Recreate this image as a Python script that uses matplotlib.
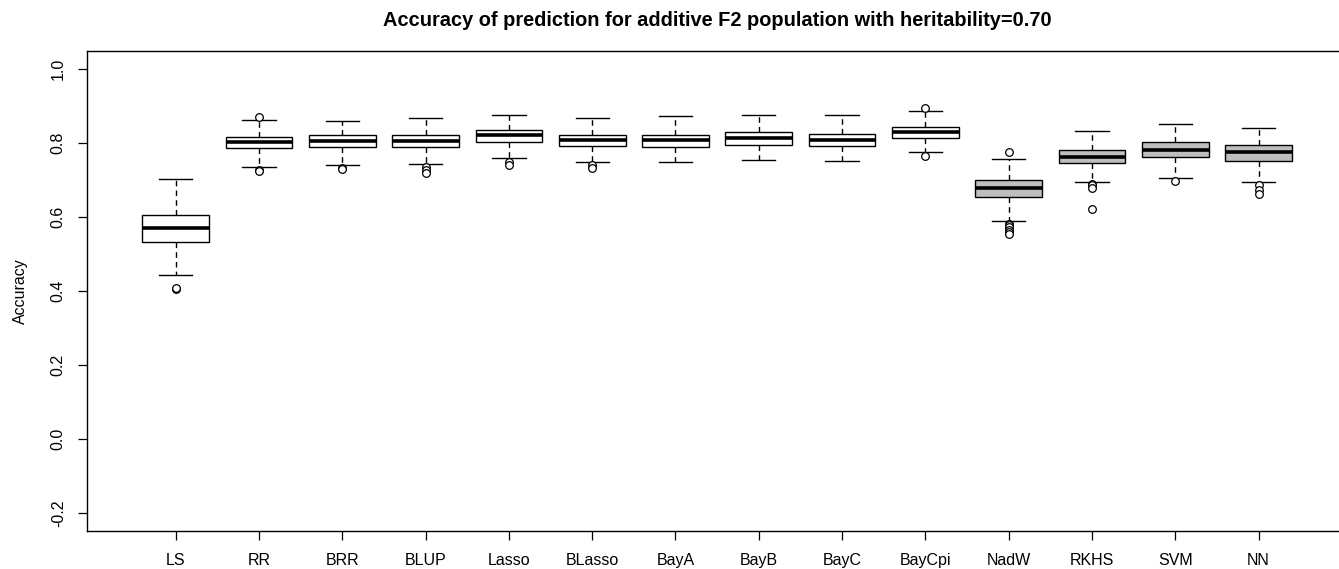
import matplotlib
matplotlib.use("Agg")
import matplotlib.pyplot as plt

plt.rcParams["font.family"] = ["Liberation Sans", "DejaVu Sans"]

# --- data (summary stats per method) ---
methods = ["LS", "RR", "BRR", "BLUP", "Lasso", "BLasso", "BayA", "BayB",
           "BayC", "BayCpi", "NadW", "RKHS", "SVM", "NN"]
whis_lo = [0.442, 0.735, 0.741, 0.743, 0.758, 0.749, 0.749, 0.754,
           0.751, 0.774, 0.590, 0.694, 0.704, 0.694]
q1 = [0.532, 0.786, 0.790, 0.789, 0.803, 0.792, 0.789, 0.794,
      0.792, 0.814, 0.653, 0.745, 0.762, 0.750]
med = [0.570, 0.803, 0.806, 0.805, 0.820, 0.808, 0.807, 0.812,
       0.808, 0.830, 0.677, 0.762, 0.782, 0.776]
q3 = [0.604, 0.815, 0.820, 0.820, 0.836, 0.822, 0.822, 0.829,
      0.825, 0.844, 0.699, 0.782, 0.803, 0.793]
whis_hi = [0.703, 0.861, 0.860, 0.868, 0.875, 0.866, 0.872, 0.875,
           0.875, 0.885, 0.757, 0.831, 0.850, 0.841]
outliers = [
    [0.405, 0.408],
    [0.728, 0.723, 0.870],
    [0.732, 0.729],
    [0.735, 0.726, 0.719],
    [0.748, 0.739],
    [0.741, 0.732],
    [],
    [],
    [],
    [0.894, 0.765],
    [0.776, 0.582, 0.578, 0.572, 0.566, 0.560, 0.553],
    [0.690, 0.685, 0.679, 0.622],
    [0.696],
    [0.686, 0.674, 0.662],
]
gray_methods = ["NadW", "RKHS", "SVM", "NN"]

stats = []
for i, m in enumerate(methods):
    stats.append({
        "label": m, "med": med[i], "q1": q1[i], "q3": q3[i],
        "whislo": whis_lo[i], "whishi": whis_hi[i], "fliers": outliers[i],
    })

W, H = 1339, 569
fig = plt.figure(figsize=(W / 100, H / 100), dpi=100)
# plot region as in the R device (right edge runs past the image)
left, right, top, bottom = 87.4, 1346.9, 51, 531
ax = fig.add_axes([left / W, (H - bottom) / H, (right - left) / W, (bottom - top) / H])

bp = ax.bxp(
    stats, positions=range(1, len(methods) + 1), widths=0.8,
    patch_artist=True, showfliers=True,
    boxprops=dict(edgecolor="black", linewidth=1.0),
    medianprops=dict(color="black", linewidth=2.6, solid_capstyle="butt"),
    whiskerprops=dict(color="black", linewidth=1.0, linestyle=(0, (4, 3))),
    capprops=dict(color="black", linewidth=1.0),
    flierprops=dict(marker="o", markerfacecolor="white", markeredgecolor="black",
                    markersize=5.5, markeredgewidth=0.9),
)
# R staples are half the box width
for c in bp["caps"]:
    x = c.get_xdata()
    mid = (x[0] + x[1]) / 2
    c.set_xdata([mid - 0.2, mid + 0.2])
for patch, m in zip(bp["boxes"], methods):
    patch.set_facecolor("#bebebe" if m in gray_methods else "white")

ax.set_xlim(-0.06, 15.06)
ax.set_ylim(-0.248, 1.048)
ax.set_xticks(range(1, len(methods) + 1))
ax.set_xticklabels(methods)
ax.set_yticks([-0.2, 0.0, 0.2, 0.4, 0.6, 0.8, 1.0])
ax.set_yticklabels(["-0.2", "0.0", "0.2", "0.4", "0.6", "0.8", "1.0"],
                   rotation=90, va="center")
ax.tick_params(axis="x", length=6.5, width=0.9, pad=9, labelsize=11.5)
ax.tick_params(axis="y", length=6.5, width=0.9, pad=9, labelsize=11.5)
for s in ax.spines.values():
    s.set_linewidth(1.0)

fig.text(20 / W, 1 - 291 / H, "Accuracy", rotation=90,
         ha="center", va="center", fontsize=11.5)

fig.text(717 / W, 1 - 20 / H, "Accuracy of prediction for additive F2 population with heritability=0.70",
         ha="center", va="center", fontsize=14.4, fontweight="bold")

fig.savefig("out.png", dpi=100)
